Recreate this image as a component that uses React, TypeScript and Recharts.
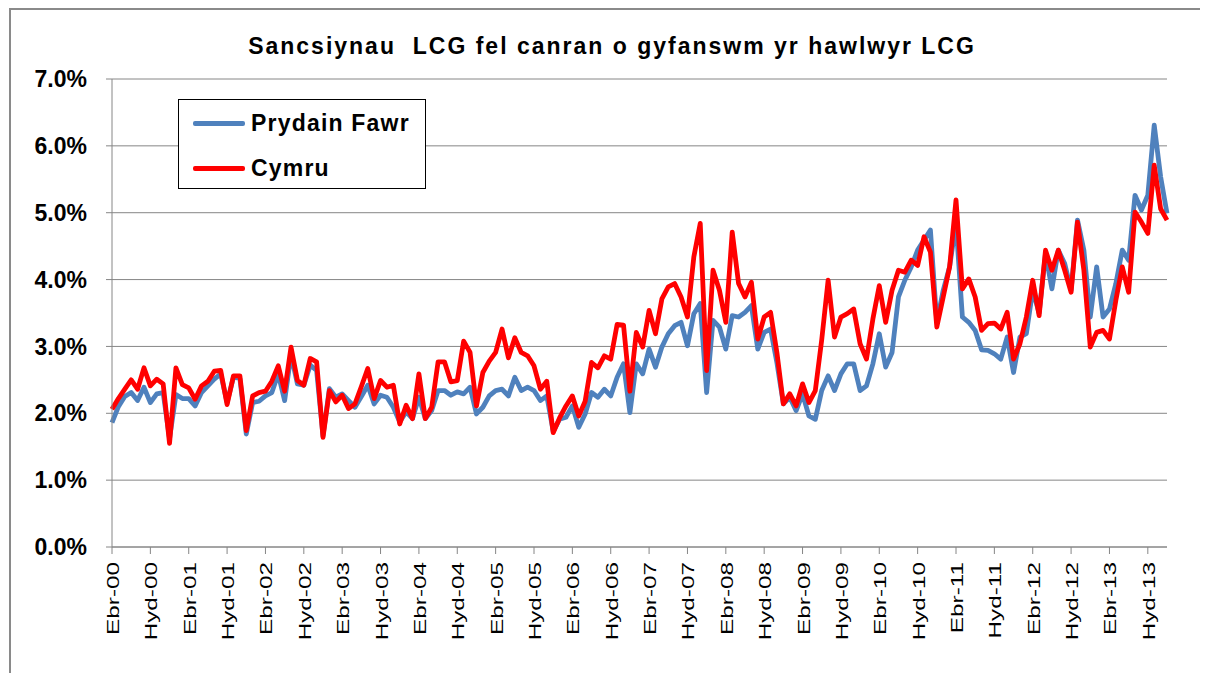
import React from 'react';
import { LineChart, Line, XAxis, YAxis, CartesianGrid } from 'recharts';

// Welsh month abbreviations (Ionawr .. Rhagfyr)
const monthNames = ['Ion', 'Chwe', 'Maw', 'Ebr', 'Mai', 'Meh', 'Gor', 'Awst', 'Medi', 'Hyd', 'Tach', 'Rhag'];
const startYear = 2000;
const startMonth = 3; // Ebrill 2000

const title = 'Sancsiynau\u00a0 LCG fel canran o gyfanswm yr hawlwyr LCG';
const seriesNames = ['Prydain Fawr', 'Cymru'];
const yTicks = [0, 1, 2, 3, 4, 5, 6, 7];

// Prydain Fawr (% of LCG claimants sanctioned), monthly from Ebr-00
const prydainFawr = [
  1.86, 2.10, 2.25, 2.31, 2.19, 2.39, 2.16, 2.29, 2.31, 1.62,
  2.28, 2.22, 2.22, 2.11, 2.31, 2.41, 2.51, 2.59, 2.16, 2.54,
  2.52, 1.69, 2.16, 2.18, 2.26, 2.31, 2.59, 2.19, 2.88, 2.44,
  2.42, 2.72, 2.64, 1.66, 2.37, 2.24, 2.29, 2.19, 2.09, 2.25,
  2.42, 2.14, 2.27, 2.24, 2.09, 1.87, 2.02, 1.92, 2.24, 1.92,
  2.04, 2.34, 2.34, 2.27, 2.32, 2.29, 2.39, 1.99, 2.09, 2.26,
  2.34, 2.36, 2.26, 2.54, 2.34, 2.39, 2.34, 2.19, 2.26, 1.73,
  1.91, 1.94, 2.11, 1.79, 1.99, 2.31, 2.24, 2.36, 2.26, 2.54,
  2.74, 2.01, 2.74, 2.59, 2.96, 2.69, 2.99, 3.19, 3.31, 3.36,
  3.01, 3.49, 3.64, 2.31, 3.39, 3.29, 2.96, 3.46, 3.44, 3.51,
  3.61, 2.96, 3.21, 3.26, 2.75, 2.14, 2.24, 2.04, 2.29, 1.96,
  1.91, 2.34, 2.56, 2.34, 2.59, 2.74, 2.74, 2.34, 2.41, 2.74,
  3.19, 2.69, 2.91, 3.74, 3.99, 4.19, 4.44, 4.59, 4.74, 3.36,
  3.84, 4.19, 4.85, 3.44, 3.36, 3.24, 2.95, 2.94, 2.89, 2.81,
  3.14, 2.61, 3.14, 3.19, 3.84, 3.50, 4.39, 3.86, 4.44, 4.24,
  3.84, 4.89, 4.44, 3.44, 4.19, 3.44, 3.56, 3.94, 4.44, 4.29,
  5.26, 5.04, 5.26, 6.31, 5.54, 4.99,
];

// Cymru
const cymru = [
  2.06, 2.22, 2.36, 2.50, 2.36, 2.68, 2.41, 2.51, 2.44, 1.55,
  2.68, 2.43, 2.38, 2.21, 2.41, 2.48, 2.63, 2.64, 2.13, 2.56,
  2.56, 1.74, 2.26, 2.31, 2.33, 2.48, 2.71, 2.33, 2.99, 2.49,
  2.42, 2.82, 2.77, 1.64, 2.34, 2.17, 2.27, 2.07, 2.14, 2.40,
  2.67, 2.22, 2.49, 2.39, 2.42, 1.84, 2.12, 1.92, 2.59, 1.92,
  2.09, 2.77, 2.77, 2.47, 2.49, 3.08, 2.91, 2.11, 2.61, 2.78,
  2.91, 3.26, 2.83, 3.13, 2.91, 2.86, 2.71, 2.36, 2.48, 1.71,
  1.93, 2.11, 2.26, 1.96, 2.18, 2.76, 2.68, 2.86, 2.81, 3.33,
  3.32, 2.33, 3.21, 2.99, 3.54, 3.19, 3.71, 3.89, 3.94, 3.74,
  3.44, 4.34, 4.84, 2.64, 4.14, 3.84, 3.36, 4.71, 3.94, 3.74,
  3.96, 3.11, 3.44, 3.51, 2.90, 2.14, 2.29, 2.11, 2.44, 2.16,
  2.34, 3.10, 3.99, 3.14, 3.44, 3.49, 3.56, 3.04, 2.81, 3.41,
  3.91, 3.36, 3.84, 4.14, 4.11, 4.29, 4.21, 4.64, 4.41, 3.29,
  3.74, 4.19, 5.19, 3.86, 4.01, 3.74, 3.24, 3.34, 3.35, 3.26,
  3.51, 2.81, 3.04, 3.44, 3.99, 3.46, 4.44, 4.14, 4.44, 4.14,
  3.81, 4.86, 4.14, 2.99, 3.21, 3.24, 3.11, 3.69, 4.19, 3.81,
  5.01, 4.86, 4.69, 5.71, 5.06, 4.89,
];

const categories = prydainFawr.map((_, i) => {
  const mIdx = (startMonth + i) % 12;
  const yr = startYear + Math.floor((startMonth + i) / 12);
  return `${monthNames[mIdx]}-${String(yr % 100).padStart(2, '0')}`;
});

const data = categories.map((label, i) => ({
  label,
  gb: prydainFawr[i],
  wales: cymru[i],
}));

const FONT = '"Liberation Sans", Arial, Helvetica, sans-serif';
const BLUE = '#4F81BD';
const RED = '#FF0000';
const GRID = '#868686';

const XTick = (props: any) => {
  const { x, y, payload } = props;
  return (
    <g transform={`translate(${x},${y})`}>
      <text
        transform="rotate(-90) scale(1.43,1)"
        x={0}
        y={7}
        textAnchor="end"
        fontFamily={FONT}
        fontSize={17}
        fill="#000"
      >
        {payload.value}
      </text>
    </g>
  );
};

export default function App() {
  return (
    <div
      style={{
        position: 'relative',
        width: 1192,
        height: 665,
        background: '#fff',
        fontFamily: FONT,
        overflow: 'hidden',
      }}
    >
      <style>{`.recharts-wrapper, .recharts-surface { outline: none !important; border: none !important; }`}</style>
      <div
        style={{
          position: 'absolute',
          left: 1,
          top: 0,
          width: 1300,
          height: 800,
          borderTop: '2px solid #8a8a8a',
          borderLeft: '2px solid #8a8a8a',
        }}
      />
      <div
        style={{
          position: 'absolute',
          left: 104,
          width: 1000,
          top: 27,
          textAlign: 'center',
          fontSize: 23,
          lineHeight: '23px',
          letterSpacing: 2,
          fontWeight: 'bold',
          color: '#000',
          whiteSpace: 'pre',
        }}
      >
        {title}
      </div>
      <div style={{ position: 'absolute', left: 0, top: 0 }}>
        <LineChart
          width={1182}
          height={660}
          data={data}
          margin={{ top: 71, right: 23, bottom: 0, left: 0 }}
        >
          <CartesianGrid vertical={false} stroke={GRID} strokeWidth={1} />
          <XAxis
            dataKey="label"
            interval={5}
            height={121}
            tickSize={7}
            tickMargin={8}
            axisLine={{ stroke: GRID }}
            tickLine={{ stroke: GRID }}
            tick={<XTick />}
          />
          <YAxis
            domain={[0, 7]}
            ticks={yTicks}
            width={104}
            tickSize={6}
            tickMargin={19}
            axisLine={{ stroke: GRID }}
            tickLine={{ stroke: GRID }}
            tickFormatter={(v: number) => `${v.toFixed(1)}%`}
            tick={{ fontFamily: FONT, fontSize: 23, fontWeight: 'bold', fill: '#000' }}
          />
          <Line
            type="linear"
            dataKey="gb"
            name={seriesNames[0]}
            stroke={BLUE}
            strokeWidth={4.8}
            strokeLinejoin="round"
            dot={false}
            activeDot={false}
            isAnimationActive={false}
          />
          <Line
            type="linear"
            dataKey="wales"
            name={seriesNames[1]}
            stroke={RED}
            strokeWidth={4.8}
            strokeLinejoin="round"
            dot={false}
            activeDot={false}
            isAnimationActive={false}
          />
        </LineChart>
      </div>
      <div
        style={{
          position: 'absolute',
          left: 170,
          top: 91,
          width: 248,
          height: 90,
          boxSizing: 'border-box',
          border: '1px solid #000',
          background: '#fff',
        }}
      >
        {[BLUE, RED].map((c, i) => (
          <React.Fragment key={i}>
            <div
              style={{
                position: 'absolute',
                left: 14,
                width: 52,
                top: (i === 0 ? 23 : 68) - 2,
                height: 4.8,
                background: c,
                borderRadius: 2,
              }}
            />
            <div
              style={{
                position: 'absolute',
                left: 72,
                top: (i === 0 ? 23 : 68) - 12,
                height: 24,
                lineHeight: '24px',
                fontSize: 23,
                letterSpacing: 1.2,
                fontWeight: 'bold',
                color: '#000',
                whiteSpace: 'nowrap',
              }}
            >
              {seriesNames[i]}
            </div>
          </React.Fragment>
        ))}
      </div>
    </div>
  );
}
